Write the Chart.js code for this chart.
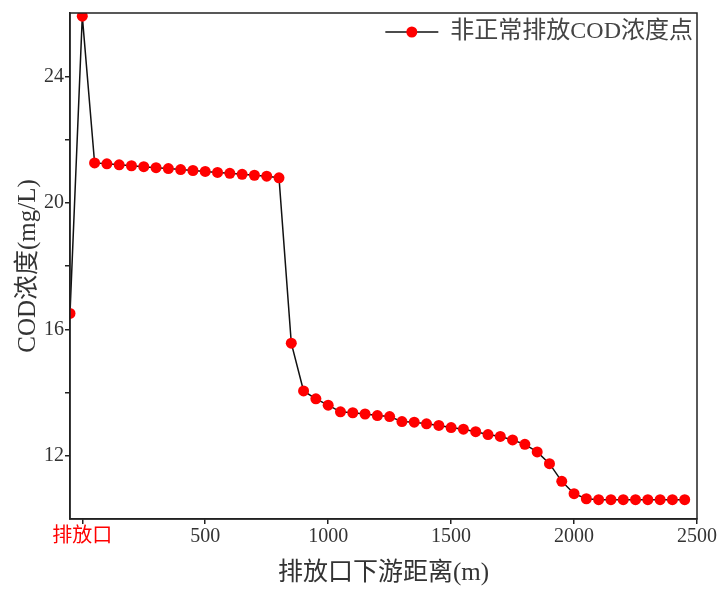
<!DOCTYPE html>
<html>
<head>
<meta charset="utf-8">
<script src="https://cdn.jsdelivr.net/npm/chart.js@4.4.0/dist/chart.umd.min.js"></script>
<style>
  html, body { margin: 0; padding: 0; background: #fff; }
  #wrap { width: 721px; height: 590px; }
</style>
</head>
<body>
<div id="wrap"><canvas id="codChart"></canvas></div>
<script>
// distance downstream of the outlet (m) and COD concentration (mg/L)
const distances = [
  -50, 0, 50, 100, 150, 200, 250, 300, 350, 400, 450, 500, 550, 600, 650, 700, 750, 800,
  850, 900, 950, 1000, 1050, 1100, 1150, 1200, 1250, 1300, 1350, 1400, 1450, 1500,
  1550, 1600, 1650, 1700, 1750, 1800, 1850, 1900, 1950, 2000, 2050, 2100, 2150,
  2200, 2250, 2300, 2350, 2400, 2450
];
const codValues = [
  16.5, 25.9, 21.26, 21.23, 21.2, 21.17, 21.14, 21.11, 21.08, 21.05, 21.02, 20.99, 20.96, 20.93, 20.9, 20.87, 20.84, 20.79,
  15.56, 14.05, 13.8, 13.6, 13.39, 13.36, 13.32, 13.27, 13.24, 13.08, 13.06, 13.01, 12.96, 12.89,
  12.84, 12.76, 12.67, 12.61, 12.5, 12.36, 12.12, 11.75, 11.19, 10.8, 10.64, 10.61, 10.61,
  10.61, 10.61, 10.61, 10.61, 10.61, 10.61
];
const xTicks = [0, 500, 1000, 1500, 2000, 2500];
const xTickLabels = ['排放口', '500', '1000', '1500', '2000', '2500'];
const yTicks = [12, 14, 16, 18, 20, 22, 24];
const yTickLabels = ['12', '', '16', '', '20', '', '24'];
const seriesName = '非正常排放COD浓度点';

const fontFamily = "'Liberation Serif', 'Noto Sans CJK SC', serif";
const textColor = '#333';

// box round the plot area
const framePlugin = {
  id: 'frame',
  afterDatasetsDraw(chart) {
    const { ctx, chartArea: a } = chart;
    ctx.save();
    ctx.strokeStyle = '#222';
    ctx.lineWidth = 1.5;
    ctx.strokeRect(a.left, a.top, a.right - a.left, a.bottom - a.top);
    ctx.restore();
  }
};

// legend inside the top right corner: line with a dot, then the label
const insideLegend = {
  id: 'insideLegend',
  afterDraw(chart) {
    const { ctx, chartArea: a } = chart;
    const ds = chart.data.datasets[0];
    ctx.save();
    ctx.font = '24px ' + fontFamily;
    ctx.fillStyle = '#444';
    ctx.textAlign = 'right';
    ctx.textBaseline = 'middle';
    const y = a.top + 19;
    const right = a.right - 4;
    ctx.fillText(ds.label, right, y);
    const textLeft = right - ctx.measureText(ds.label).width;
    const x1 = textLeft - 65, x2 = textLeft - 12;
    ctx.strokeStyle = ds.borderColor;
    ctx.lineWidth = ds.borderWidth;
    ctx.beginPath();
    ctx.moveTo(x1, y);
    ctx.lineTo(x2, y);
    ctx.stroke();
    ctx.fillStyle = ds.pointBackgroundColor;
    ctx.beginPath();
    ctx.arc((x1 + x2) / 2, y, ds.pointRadius, 0, Math.PI * 2);
    ctx.fill();
    ctx.restore();
  }
};

const points = distances.map((d, i) => ({ x: d, y: codValues[i] }));

new Chart(document.getElementById('codChart'), {
  type: 'line',
  data: {
    datasets: [{
      label: seriesName,
      data: points,
      borderColor: '#111',
      borderWidth: 1.5,
      pointBackgroundColor: '#ff0000',
      pointBorderColor: '#ff0000',
      pointBorderWidth: 0,
      pointRadius: 5.5,
      tension: 0
    }]
  },
  options: {
    responsive: true,
    maintainAspectRatio: false,
    animation: false,
    layout: { padding: { top: 13, right: 24, left: 0, bottom: 0 } },
    plugins: {
      legend: { display: false },
      tooltip: { enabled: false }
    },
    scales: {
      x: {
        type: 'linear',
        min: -50,
        max: 2500,
        afterBuildTicks: (scale) => { scale.ticks = xTicks.map(v => ({ value: v })); },
        afterFit: (scale) => { scale.height = 71; },
        grid: { drawOnChartArea: false, drawTicks: true, tickLength: 5, color: '#222', lineWidth: 1.5 },
        border: { display: true, color: '#222', width: 1.5 },
        ticks: {
          padding: 1,
          maxRotation: 0,
          autoSkip: false,
          font: { family: fontFamily, size: 20 },
          color: (c) => c.tick && c.tick.value === 0 ? '#ff0000' : textColor,
          callback: (v) => xTickLabels[xTicks.indexOf(v)]
        },
        title: {
          display: true,
          text: '排放口下游距离(m)',
          color: textColor,
          font: { family: fontFamily, size: 25 },
          padding: { top: 0, bottom: 2 }
        }
      },
      y: {
        min: 10,
        max: 26,
        afterBuildTicks: (scale) => { scale.ticks = yTicks.map(v => ({ value: v })); },
        afterFit: (scale) => { scale.width = 70; },
        grid: { drawOnChartArea: false, drawTicks: true, tickLength: 5, color: '#222', lineWidth: 1.5 },
        border: { display: true, color: '#222', width: 1.5 },
        ticks: {
          padding: 1,
          autoSkip: false,
          font: { family: fontFamily, size: 20 },
          color: textColor,
          callback: (v) => yTickLabels[yTicks.indexOf(v)]
        },
        title: {
          display: true,
          text: 'COD浓度(mg/L)',
          color: textColor,
          font: { family: fontFamily, size: 25 },
          padding: { top: 13, bottom: 0 }
        }
      }
    }
  },
  plugins: [framePlugin, insideLegend]
});
</script>
</body>
</html>
